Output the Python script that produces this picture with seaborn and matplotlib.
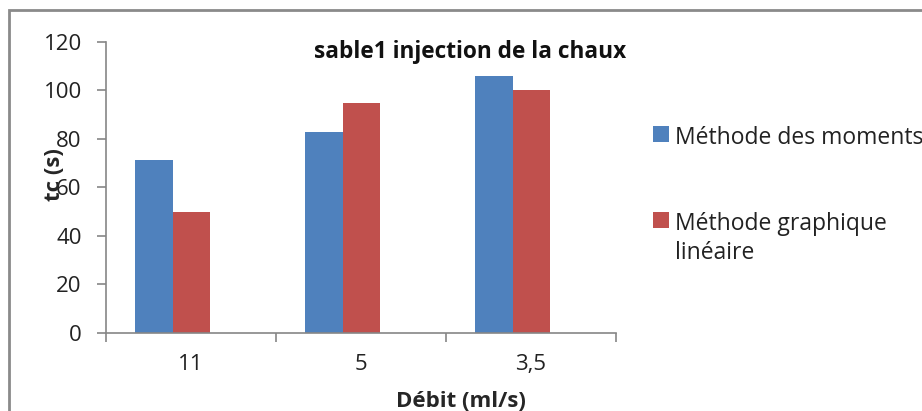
import pandas as pd
import matplotlib.pyplot as plt
import matplotlib.patches as mpatches
import seaborn as sns

# Données
debits = ['11', '5', '3,5']
methodes = ['Méthode des moments', 'Méthode graphique\nlinéaire']
tc_moments = [71.5, 83, 106]
tc_graphique = [50, 95, 100]

data = pd.DataFrame({
    'debit': debits * 2,
    'methode': [methodes[0]] * 3 + [methodes[1]] * 3,
    'tc': tc_moments + tc_graphique,
})

sns.set_style('white')
plt.rcParams['font.family'] = ['Open Sans', 'DejaVu Sans']

fig = plt.figure(figsize=(9.22, 4.11), dpi=100)
ax = fig.add_axes([0.115, 0.19, 0.553, 0.708])

sns.barplot(ax=ax, data=data, x='debit', y='tc', hue='methode',
            order=debits, hue_order=methodes,
            palette=['#4F81BD', '#C0504D'], saturation=1,
            width=0.44, gap=0, linewidth=0, errorbar=None)

# les barres sont décalées vers la gauche dans l'original
decal = 0.107
gris = '#868686'
ax.set_ylim(0, 120)
ax.set_yticks(range(0, 121, 20))
ax.set_xlim(-0.5 + decal, 2.5 + decal)
ax.set_xticks([i + decal for i in range(len(debits))], debits)
ax.set_xticks([i - 0.5 + decal for i in range(len(debits) + 1)], minor=True)
for s in ['top', 'right']:
    ax.spines[s].set_visible(False)
for s in ['left', 'bottom']:
    ax.spines[s].set_color(gris)
    ax.spines[s].set_linewidth(1.2)
ax.tick_params(axis='y', left=True, length=6.5, width=1.2, color=gris,
               pad=11, labelsize=16, labelcolor='#222222')
ax.tick_params(axis='x', which='major', bottom=True, length=0, pad=15,
               labelsize=16, labelcolor='#222222')
ax.tick_params(axis='x', which='minor', bottom=True, length=6.5, width=1.2,
               color=gris)

ax.set_xlabel('Débit (ml/s)', fontsize=16, fontweight='bold')
ax.xaxis.set_label_coords(0.696, -0.199)
ax.set_ylabel('tc (s)', fontsize=16, fontweight='bold')
ax.yaxis.set_label_coords(-0.081, 0.545)

fig.text(470 / 922, 1 - 58 / 411, 'sable1 injection de la chaux',
         ha='center', va='baseline', fontsize=16.3, fontweight='bold',
         color='#111111')

handles, labels = ax.get_legend_handles_labels()
leg = ax.legend(handles, labels, loc='upper left',
                bbox_to_anchor=(653 / 922, 1 - 126 / 411),
                bbox_transform=fig.transFigure, frameon=False,
                fontsize=16.5, handlelength=0.7, handleheight=0.7,
                handletextpad=0.24, labelspacing=2.7, borderpad=0,
                borderaxespad=0)
for t in leg.get_texts():
    t.set_color('#222222')
    t.set_linespacing(1.3)
for col in leg._legend_handle_box.get_children():
    for row in col.get_children():
        row.align = 'top'

# Cadre gris autour du graphique
fig.patches.append(mpatches.Rectangle(
    (9 / 922, -0.1), 1.2, 1 - 10 / 411 + 0.1, transform=fig.transFigure,
    fill=False, edgecolor='#8a8a8a', linewidth=2, clip_on=False))

plt.savefig('out.png', dpi=100)
